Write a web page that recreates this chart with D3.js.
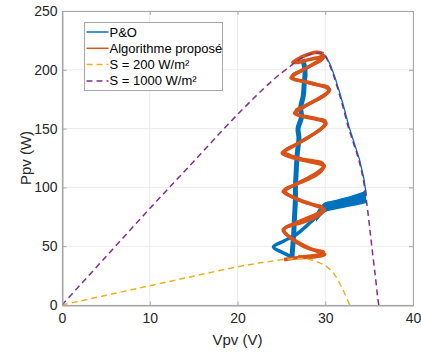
<!DOCTYPE html>
<html><head><meta charset="utf-8">
<script src="https://cdn.jsdelivr.net/npm/d3@7"></script>
<style>
body{margin:0;background:#fff;}
svg{display:block;font-family:"Liberation Sans",Arial,sans-serif;}
</style></head>
<body><div id="chart"></div>
<script>
// ---- data ----
const xTicks = [0, 10, 20, 30, 40];
const yTicks = [0, 50, 100, 150, 200, 250];
const legendLabels = ["P&O", "Algorithme proposé", "S = 200 W/m²", "S = 1000 W/m²"];

// PV curve, S = 1000 W/m² (V, P)
const curve1000 = [[0,0],[5,41],[10,82],[15,122],[20,162],[24,191],[26,203],[27,208.5],[28,212.5],[29,214.5],[29.5,214],[30,211.5],[30.5,204],[31,194],[31.5,182],[32,169],[32.6,152],[33.2,138],[33.8,124],[34.3,108],[34.6,94],[35,70],[35.3,50],[35.7,25],[36,5],[36.1,0]];
// PV curve, S = 200 W/m²
const curve200 = [[0,0],[5,8.2],[10,16.4],[15,24.5],[20,32.5],[23,36.3],[25,38.4],[26.5,39.4],[27.5,39.5],[28.5,38.2],[29.5,35.4],[30.2,32.5],[31,26.5],[31.6,19],[32.2,10],[32.7,1.5],[32.8,0]];

// P&O trajectory
const poColumn = [[26.2,40],[26.3,50],[26.4,60],[26.5,75],[26.6,90],[26.6,100],[26.7,115],[26.8,128],[27.0,142],[26.9,150],[27.3,160],[27.2,168],[27.5,178],[27.6,188],[27.7,197],[27.6,204],[27.4,209]];
const poLoop = [[26.2,40.8],[25.2,44.5],[24.1,49.3],[25.3,54.5],[26.7,60],[27.9,67.5],[29.0,75]];
const poBandV = [29.0, 30.0, 31.0, 32.0, 33.0, 34.0, 34.6];
const poBandLow = [72, 79.5, 81.5, 83, 84.5, 86, 87];
const poBandHigh = [78, 87, 88.5, 90.5, 92.5, 95, 97];
const poCurve = [[34.6,93],[34.3,108],[33.8,124],[33.2,138],[32.6,152],[32,169],[31.5,182],[31,194],[30.5,204],[30,211.5],[29.5,214],[29,214.5],[28.5,213.8],[28,212.5]];

// Proposed algorithm trajectory (two passes)
const propA = [[25.3,38.6],[26.8,40.2],[28.2,40.6],[29.4,41.6],[29.95,43.0],[29.5,44.6],[28.4,47.5],[27.3,51.5],[26.2,56.5],[25.4,61.5],[25.2,64.0],[25.6,66.3],[26.6,69.5],[27.7,73],[28.8,76.5],[29.6,79.3],[29.9,81.0],[29.5,82.8],[28.4,85.8],[27.2,89],[26.1,92.6],[25.4,95.3],[25.2,96.6],[25.6,98.5],[26.6,102.5],[27.8,107],[28.9,111.5],[29.6,115.5],[29.9,118],[29.5,119.8],[28.4,121.6],[27.1,123.8],[25.9,126.3],[25.1,129],[25.5,131.5],[26.6,136],[27.8,141.5],[29.0,147],[29.8,151.5],[30.1,154.7],[29.7,156.6],[28.6,158.5],[27.4,160.5],[26.5,163],[26.9,165.5],[27.9,170],[29.0,174.5],[30.0,179],[30.5,183],[30.1,185],[29.0,187.5],[27.6,190],[26.1,193],[26.5,196],[27.6,200.5],[28.8,205.5],[29.6,209.5],[29.9,211.5],[29.3,210.5],[28.1,208.5],[27.0,206.5],[26.3,206.5],[27.2,210.5],[28.2,213.5],[29.0,214.8],[29.8,213.6]];
const propB = [[26.9,41.0],[28.4,41.8],[29.5,43.4],[29.8,45.2],[29.2,46.2],[28.0,48.2],[26.8,52.8],[25.8,58.5],[25.3,62.5],[25.4,65.5],[26.2,67.8],[27.4,70.2],[28.6,73.5],[29.5,77.5],[29.8,80.2],[29.6,83.5],[28.7,85.2],[27.5,87.5],[26.3,91.5],[25.5,95.5],[25.4,98.2],[26.0,100.5],[27.2,104.2],[28.5,108.5],[29.5,113.5],[29.8,117],[29.7,120.5],[28.8,122.5],[27.4,124.2],[26.0,127.2],[25.3,130.5],[25.7,133],[26.9,137.5],[28.2,143],[29.3,148.5],[29.9,153],[30.0,156.5],[29.2,158.2],[27.9,160.2],[26.8,162.2],[26.7,165.8],[27.6,169],[28.7,173],[29.8,177.5],[30.4,181.8],[30.3,185.5],[29.3,187],[27.9,189.5],[26.4,192.5],[26.3,195.5],[27.2,199],[28.5,204],[29.5,208],[29.9,211.5]];

// ---- layout ----
const W = 421, H = 352;
const m = {left: 62, right: 8, top: 11, bottom: 47};
const colors = {po: "#0072BD", prop: "#D95319", s200: "#EDB120", s1000: "#7E2F8E", axis: "#a6a6a6", text: "#262626", grid: "#ebebeb"};

const svg = d3.select("#chart").append("svg").attr("width", W).attr("height", H);
const x = d3.scaleLinear().domain([0, 40]).range([m.left, W - m.right]);
const y = d3.scaleLinear().domain([0, 250]).range([H - m.bottom, m.top]);

// grid
svg.append("g").selectAll("line.gx").data(xTicks).join("line")
  .attr("x1", d => x(d)).attr("x2", d => x(d)).attr("y1", y(0)).attr("y2", y(250))
  .attr("stroke", colors.grid).attr("stroke-width", 1);
svg.append("g").selectAll("line.gy").data(yTicks).join("line")
  .attr("y1", d => y(d)).attr("y2", d => y(d)).attr("x1", x(0)).attr("x2", x(40))
  .attr("stroke", colors.grid).attr("stroke-width", 1);

const clip = svg.append("clipPath").attr("id", "clip").append("rect")
  .attr("x", x(0)).attr("y", y(250)).attr("width", x(40) - x(0)).attr("height", y(0) - y(250));
const plot = svg.append("g").attr("clip-path", "url(#clip)");

const line = d3.line().x(d => x(d[0])).y(d => y(d[1]));
const smooth = d3.line().x(d => x(d[0])).y(d => y(d[1])).curve(d3.curveCatmullRom.alpha(0.5));

// P&O
plot.append("path").attr("d", line(poCurve)).attr("fill", "none")
  .attr("stroke", colors.po).attr("stroke-width", 1.3).attr("transform", "translate(0.8,0)");
plot.append("path").attr("d", smooth(poColumn)).attr("fill", "none")
  .attr("stroke", colors.po).attr("stroke-width", 5).attr("stroke-linejoin", "round");
plot.append("path").attr("d", smooth(poLoop)).attr("fill", "none")
  .attr("stroke", colors.po).attr("stroke-width", 3.5).attr("stroke-linejoin", "round");
const band = poBandV.map((v, i) => ({v, lo: poBandLow[i], hi: poBandHigh[i]}));
plot.append("path").attr("d", d3.area().x(d => x(d.v)).y0(d => y(d.lo)).y1(d => y(d.hi)).curve(d3.curveMonotoneX)(band))
  .attr("fill", colors.po).attr("stroke", colors.po).attr("stroke-width", 1.2);

// Proposed
plot.append("path").attr("d", smooth(propB)).attr("fill", "none")
  .attr("stroke", colors.prop).attr("stroke-width", 3.2).attr("stroke-linejoin", "round");
plot.append("path").attr("d", smooth(propA)).attr("fill", "none")
  .attr("stroke", colors.prop).attr("stroke-width", 3.6).attr("stroke-linejoin", "round");

// PV curves
plot.append("path").attr("d", smooth(curve200)).attr("fill", "none")
  .attr("stroke", colors.s200).attr("stroke-width", 1.5).attr("stroke-dasharray", "6,4");
plot.append("path").attr("d", smooth(curve1000)).attr("fill", "none")
  .attr("stroke", colors.s1000).attr("stroke-width", 1.5).attr("stroke-dasharray", "6,4");

// axes box
const ax = svg.append("g");
ax.append("rect").attr("x", x(0) + 0.5).attr("y", y(250) + 0.5)
  .attr("width", x(40) - x(0)).attr("height", y(0) - y(250))
  .attr("fill", "none").attr("stroke", colors.axis).attr("stroke-width", 1);

const xAxis = d3.axisBottom(x).tickValues(xTicks).tickSizeInner(-4).tickSizeOuter(0).tickPadding(8);
const gx = svg.append("g").attr("transform", `translate(0,${y(0) + 0.5})`).call(xAxis);
const yAxis = d3.axisLeft(y).tickValues(yTicks).tickSizeInner(-4).tickSizeOuter(0).tickPadding(5);
const gy = svg.append("g").attr("transform", `translate(${x(0) + 0.5},0)`).call(yAxis);
[gx, gy].forEach(g => {
  g.select(".domain").attr("stroke", colors.axis);
  g.selectAll(".tick line").attr("stroke", colors.axis);
  g.selectAll(".tick text").attr("fill", colors.text).attr("font-size", 14)
    .attr("font-family", "Liberation Sans, Arial, sans-serif");
});
// top/right ticks
svg.append("g").selectAll("line").data(xTicks).join("line")
  .attr("x1", d => x(d) + 0.5).attr("x2", d => x(d) + 0.5).attr("y1", y(250)).attr("y2", y(250) + 4)
  .attr("stroke", colors.axis);
svg.append("g").selectAll("line").data(yTicks).join("line")
  .attr("y1", d => y(d) + 0.5).attr("y2", d => y(d) + 0.5).attr("x1", x(40)).attr("x2", x(40) - 4)
  .attr("stroke", colors.axis);

// labels
svg.append("text").attr("x", (x(0) + x(40)) / 2).attr("y", 345).attr("text-anchor", "middle")
  .attr("font-size", 15).attr("fill", colors.text).text("Vpv (V)");
svg.append("text").attr("transform", `translate(31,${(y(0) + y(250)) / 2}) rotate(-90)`)
  .attr("text-anchor", "middle").attr("font-size", 15).attr("fill", colors.text).text("Ppv (W)");

// legend
const lg = svg.append("g").attr("transform", "translate(84.5,22.5)");
lg.append("rect").attr("width", 138).attr("height", 68).attr("fill", "#fff").attr("stroke", colors.axis);
const lgColors = [colors.po, colors.prop, colors.s200, colors.s1000];
const lgDash = [null, null, "6,4", "6,4"];
legendLabels.forEach((t, i) => {
  const cy = 9.5 + i * 16.3;
  lg.append("line").attr("x1", 2).attr("x2", 24).attr("y1", cy).attr("y2", cy)
    .attr("stroke", lgColors[i]).attr("stroke-width", 1.5).attr("stroke-dasharray", lgDash[i]);
  lg.append("text").attr("x", 25).attr("y", cy + 4.5).attr("font-size", 13).attr("fill", "#000").text(t);
});
</script>
</body></html>
